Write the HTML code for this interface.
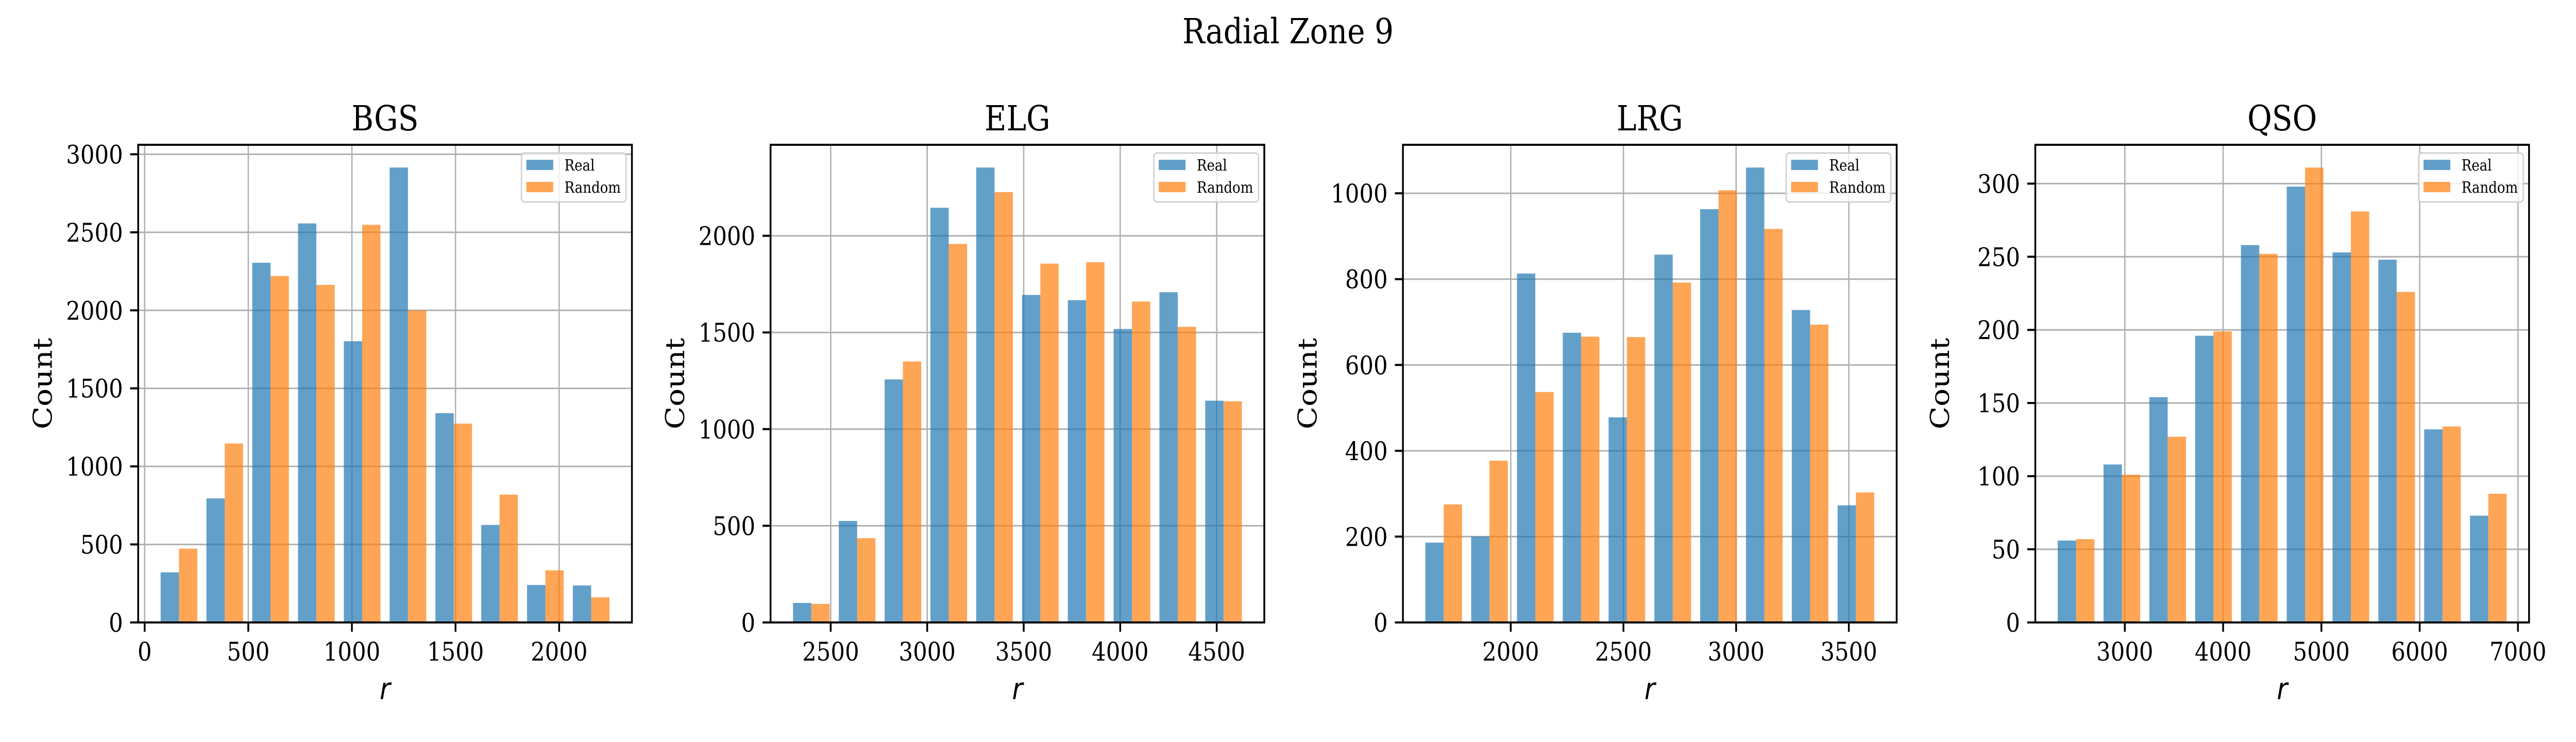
<!DOCTYPE html>
<html><head><meta charset="utf-8"><style>
html,body{margin:0;padding:0;background:#fff;width:100%;height:100%;overflow:hidden}
svg{display:block;width:100vw;height:100vh}
text{font-family:"DejaVu Serif","Liberation Serif",serif;fill:#000}
</style></head><body>
<svg id="fig" viewBox="0 0 5760 1440" preserveAspectRatio="none" xmlns="http://www.w3.org/2000/svg">
<rect width="5760" height="1440" fill="#fff"/>
<text x="2880" y="84" font-size="67" text-anchor="middle">Radial Zone 9</text>
</svg>
<script>
const panelNames = ["BGS","ELG","LRG","QSO"];
const binStart = [55, 2281, 1601, 2271];
const binWidth = [221, 237.3, 203.2, 466];
const realBGS = [321, 795, 2305, 2557, 1802, 2915, 1341, 625, 240, 237];
const randBGS = [473, 1147, 2220, 2163, 2548, 1999, 1274, 819, 334, 161];
const realELG = [101, 525, 1257, 2145, 2353, 1694, 1667, 1518, 1708, 1147];
const randELG = [96, 436, 1350, 1958, 2226, 1856, 1863, 1660, 1529, 1144];
const realLRG = [186, 200, 813, 675, 478, 857, 963, 1060, 728, 273];
const randLRG = [275, 377, 537, 666, 665, 792, 1007, 917, 694, 303];
const realQSO = [56, 108, 154, 196, 258, 298, 253, 248, 132, 73];
const randQSO = [57, 101, 127, 199, 252, 311, 281, 226, 134, 88];
const xTicksBGS = [0, 500, 1000, 1500, 2000];
const xTicksELG = [2500, 3000, 3500, 4000, 4500];
const xTicksLRG = [2000, 2500, 3000, 3500];
const xTicksQSO = [3000, 4000, 5000, 6000, 7000];
const yTicksBGS = [0, 500, 1000, 1500, 2000, 2500, 3000];
const yTicksELG = [0, 500, 1000, 1500, 2000];
const yTicksLRG = [0, 200, 400, 600, 800, 1000];
const yTicksQSO = [0, 50, 100, 150, 200, 250, 300];

const reals = [realBGS, realELG, realLRG, realQSO];
const rands = [randBGS, randELG, randLRG, randQSO];
const xTicks = [xTicksBGS, xTicksELG, xTicksLRG, xTicksQSO];
const yTicks = [yTicksBGS, yTicksELG, yTicksLRG, yTicksQSO];

const NS = "http://www.w3.org/2000/svg";
const svg = document.getElementById('fig');
const AX_TOP = 281, AX_BOT = 1208, AX_W = 1104, AX_LEFT0 = 309, AX_STEP = 1414;
const BLUE = "#1f77b4", ORANGE = "#ff7f0e";

function mk(tag, attrs, parent) {
  const e = document.createElementNS(NS, tag);
  for (const k in attrs) e.setAttribute(k, attrs[k]);
  parent.appendChild(e);
  return e;
}

panelNames.forEach((name, p) => {
  const L = AX_LEFT0 + p * AX_STEP, R = L + AX_W;
  const g = mk('g', {}, svg);
  
  
  const W = binWidth[p], b0 = binStart[p], n = reals[p].length;
  const dmin = b0 + 0.1 * W, dmax = b0 + (n - 0.1) * W, span = dmax - dmin;
  const xlo = dmin - 0.05 * span, xhi = dmax + 0.05 * span;
  const xs = v => L + (v - xlo) / (xhi - xlo) * AX_W;
  const ymax = Math.max(...reals[p], ...rands[p]) * 1.05;
  const ys = v => AX_BOT - v / ymax * (AX_BOT - AX_TOP);

  xTicks[p].forEach(t => {
    const l = mk('line', {x1: xs(t), x2: xs(t), y1: AX_TOP, y2: AX_BOT, stroke: '#b0b0b0', 'stroke-width': 3}, g);
    
    
  });
  yTicks[p].forEach(t => {
    const l = mk('line', {x1: L, x2: R, y1: ys(t), y2: ys(t), stroke: '#b0b0b0', 'stroke-width': 3}, g);
    
    
  });
  for (let i = 0; i < n; i++) {
    const e0 = b0 + i * W;
    const x0 = xs(e0 + 0.1 * W), x1 = xs(e0 + 0.5 * W), x2 = xs(e0 + 0.9 * W);
    const rb = mk('rect', {x: x0, y: ys(reals[p][i]), width: x1 - x0, height: AX_BOT - ys(reals[p][i]), fill: BLUE, 'fill-opacity': 0.7}, g);
    
    
    const ob = mk('rect', {x: x1, y: ys(rands[p][i]), width: x2 - x1, height: AX_BOT - ys(rands[p][i]), fill: ORANGE, 'fill-opacity': 0.7}, g);
    
    
  }
  const fr = mk('rect', {x: L, y: AX_TOP, width: AX_W, height: AX_BOT - AX_TOP, fill: 'none', stroke: '#000', 'stroke-width': 4}, g);
  
  
  xTicks[p].forEach(t => {
    const tk = mk('line', {x1: xs(t), x2: xs(t), y1: AX_BOT, y2: AX_BOT + 18, stroke: '#000', 'stroke-width': 4}, g);
    
    
    const tx = mk('text', {x: xs(t), y: 1282, 'font-size': 50, 'text-anchor': 'middle'}, g);
    tx.textContent = t;
    
    
  });
  yTicks[p].forEach(t => {
    const tk = mk('line', {x1: L - 18, x2: L, y1: ys(t), y2: ys(t), stroke: '#000', 'stroke-width': 4}, g);
    
    
    const tx = mk('text', {x: L - 34, y: ys(t) + 18, 'font-size': 50, 'text-anchor': 'end'}, g);
    tx.textContent = t;
    
    
  });
  const tt = mk('text', {x: L + AX_W / 2, y: 253, 'font-size': 67, 'text-anchor': 'middle'}, g);
  tt.textContent = name;
  
  
  const xl = mk('text', {x: L + AX_W / 2, y: 1357, 'font-size': 58, 'text-anchor': 'middle', 'font-style': 'italic', style: 'font-family:"DejaVu Sans","Liberation Sans",sans-serif'}, g);
  xl.textContent = 'r';
  
  
  const cy = (AX_TOP + AX_BOT) / 2, cx = L - 193;
  const yl = mk('text', {x: cx, y: cy, 'font-size': 58, 'text-anchor': 'middle', transform: `rotate(-90 ${cx} ${cy})`}, g);
  yl.textContent = 'Count';
  
  
  const lg = mk('g', {}, g);
  
  
  mk('rect', {x: R - 247, y: AX_TOP + 16, width: 234, height: 95, rx: 7, fill: '#fff', 'fill-opacity': 0.8, stroke: '#d0d0d0', 'stroke-width': 3}, lg);
  const p1 = mk('rect', {x: R - 236, y: AX_TOP + 29, width: 60, height: 20, fill: BLUE, 'fill-opacity': 0.7}, lg);
  
  
  const p2 = mk('rect', {x: R - 236, y: AX_TOP + 72, width: 60, height: 20, fill: ORANGE, 'fill-opacity': 0.7}, lg);
  
  
  const t1 = mk('text', {x: R - 151, y: AX_TOP + 50, 'font-size': 30}, lg);
  t1.textContent = 'Real';
  
  
  const t2 = mk('text', {x: R - 151, y: AX_TOP + 93, 'font-size': 30}, lg);
  t2.textContent = 'Random';
  
  
});
</script>
</body></html>
